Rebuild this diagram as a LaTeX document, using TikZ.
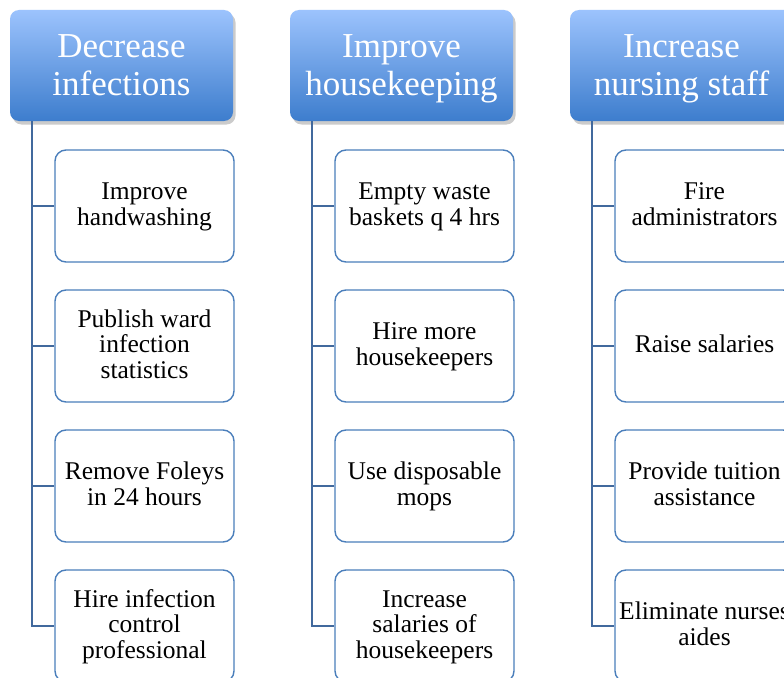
\documentclass[tikz,border=0pt]{standalone}
\usepackage{fontspec}
\setmainfont{Liberation Serif}
\usetikzlibrary{shadows}
\definecolor{hdtop}{HTML}{9CC3FD}
\definecolor{hdbot}{HTML}{3D7DCD}
\definecolor{boxline}{HTML}{4A7EBB}
\definecolor{connc}{HTML}{41699D}
\newcommand\hdtxt[1]{\begin{tabular}{@{}c@{}}\rule{0pt}{33.1pt}#1\end{tabular}}
\newcommand\bxtxt[1]{\begin{tabular}{@{}c@{}}\rule{0pt}{20.85pt}#1\end{tabular}}
\begin{document}
\begin{tikzpicture}[x=1pt,y=-1pt,
 header/.style={rounded corners=9pt, top color=hdtop, bottom color=hdbot, draw=none,
   minimum width=223pt, minimum height=111pt, inner sep=0pt, text=white,
   font=\fontsize{35}{37}\selectfont,
   drop shadow={shadow xshift=2.5pt, shadow yshift=-3.5pt, fill=black!45, opacity=0.45}},
 childbox/.style={draw=boxline, line width=1.4pt, rounded corners=11pt, fill=white,
   minimum width=179pt, minimum height=112pt, inner sep=0pt,
   font=\fontsize{25.5}{25.5}\selectfont},
 connline/.style={draw=connc, line width=2pt}]
\useasboundingbox (0,0) rectangle (784,677);
\fill[white] (0,0) rectangle (784,677);

% headers
\node[header] (h1) at (121.5,65.5) {\hdtxt{Decrease\\infections}};
\node[header] (h2) at (401.5,65.5) {\hdtxt{Improve\\housekeeping}};
\node[header] (h3) at (681.5,65.5) {\hdtxt{Increase\\nursing staff}};

% column 1
\node[childbox] (b11) at (144.5,206) {\bxtxt{Improve\\handwashing}};
\node[childbox] (b12) at (144.5,346) {\bxtxt{Publish ward\\infection\\statistics}};
\node[childbox] (b13) at (144.5,486) {\bxtxt{Remove Foleys\\in 24 hours}};
\node[childbox] (b14) at (144.5,626) {\bxtxt{Hire infection\\control\\professional}};

% column 2
\node[childbox] (b21) at (424.5,206) {\bxtxt{Empty waste\\baskets q 4 hrs}};
\node[childbox] (b22) at (424.5,346) {\bxtxt{Hire more\\housekeepers}};
\node[childbox] (b23) at (424.5,486) {\bxtxt{Use disposable\\mops}};
\node[childbox] (b24) at (424.5,626) {\bxtxt{Increase\\salaries of\\housekeepers}};

% column 3
\node[childbox] (b31) at (704.5,206) {\bxtxt{Fire\\administrators}};
\node[childbox] (b32) at (704.5,346) {\bxtxt{Raise salaries}};
\node[childbox] (b33) at (704.5,486) {\bxtxt{Provide tuition\\assistance}};
\node[childbox] (b34) at (704.5,626) {\bxtxt{Eliminate nurses\\aides}};

% connectors
\foreach \c in {1,2,3}{
  \coordinate (v\c) at ([xshift=22pt]h\c.south west);
  \draw[connline] (v\c) |- (b\c4.west);
  \foreach \r in {1,2,3}{
    \draw[connline] (b\c\r.west) -- (b\c\r.west -| v\c);
  }
}
\end{tikzpicture}
\end{document}
